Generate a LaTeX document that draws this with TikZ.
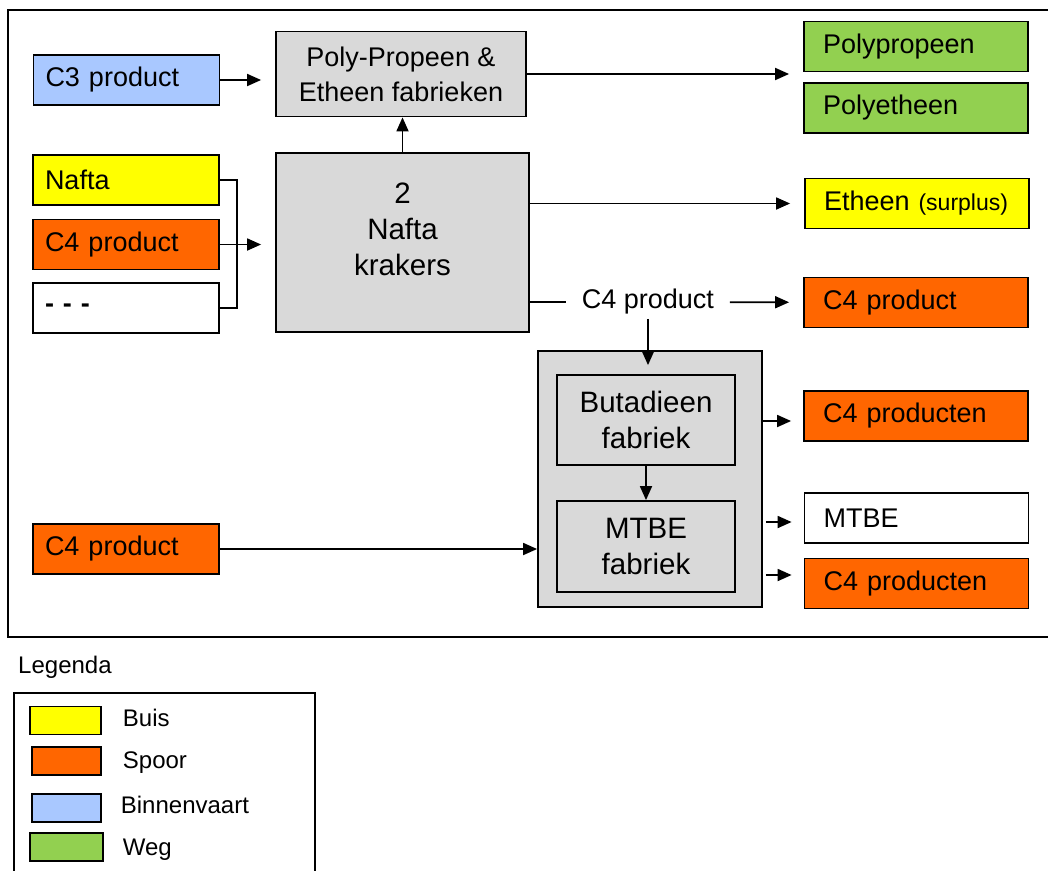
\documentclass[tikz,border=0pt]{standalone}
\usepackage{fontspec}
\setmainfont{Liberation Sans}
\usetikzlibrary{arrows.meta,positioning}
\definecolor{buis}{HTML}{FFFF00}
\definecolor{spoor}{HTML}{FF6600}
\definecolor{vaart}{HTML}{A9C8FF}
\definecolor{weg}{HTML}{92D050}
\definecolor{fabriek}{HTML}{D9D9D9}
\newcommand\bigtxt{\fontsize{27}{35}\selectfont}
\newcommand\fabtxt{\fontsize{29.5}{36}\selectfont}
\newcommand\legtxt{\fontsize{24}{28}\selectfont}

\begin{document}
\begin{tikzpicture}[x=1pt,y=-1pt,line width=1.8pt,
    >={Triangle[length=14pt,width=12pt]},
    box/.style={draw, minimum height=50pt, font=\bigtxt},
    inbox/.style={box, text width=162pt, inner xsep=12pt, align=left},
    outbox/.style={box, text width=186pt, inner xsep=19pt, align=left},
    plant/.style={draw, fill=fabriek, font=\bigtxt, align=center},
    swatch/.style={draw, minimum height=28pt},
    legtext/.style={anchor=base west, font=\legtxt, inner sep=0pt}]
    \useasboundingbox (0,0) rectangle (1048,870);

    % frame
    \draw (8,10) rectangle (1054,637);

    % inputs
    \node[inbox, fill=vaart] (c3) at (126.5,80) {C3 product};
    \node[inbox, fill=buis] (nafta) at (126,180) {Nafta};
    \node[inbox, fill=spoor] (c4in) at (126,244.5) {C4 product};
    \node[inbox, fill=white] (rest) at (126,308) {\textbf{- - -}};
    \node[inbox, fill=spoor] (c4low) at (126,549) {C4 product};

    % plants
    \node[plant, minimum width=250pt, minimum height=85pt] (poly) at (401,74) {Poly-Propeen \&\\Etheen fabrieken};
    \node[plant, minimum width=253pt, minimum height=179pt] (krakers) at (402.5,242.5) {};
    \node[font=\fabtxt, align=center] (kraktext) at (402.5,229) {2\\Nafta\\krakers};
    \node[plant, minimum width=224pt, minimum height=256pt] (group) at (650,479) {};
    \node[plant, font=\fabtxt, minimum width=178pt, minimum height=90pt] (buta) at (646,420) {Butadieen\\fabriek};
    \node[plant, font=\fabtxt, minimum width=178pt, minimum height=91pt] (mtbe) at (646,546.5) {MTBE\\fabriek};
    \node[font=\bigtxt, inner xsep=15pt] (c4mid) at (648,302) {C4 product};

    % outputs
    \node[outbox, fill=weg] (pp) at (916,46.5) {Polypropeen};
    \node[outbox, fill=weg] (pe) at (916,108) {Polyetheen};
    \node[outbox, fill=buis] (etheen) at (917,203.5) {Etheen {\fontsize{23}{28}\selectfont(surplus)}};
    \node[outbox, fill=spoor] (c4out) at (916,302.5) {C4 product};
    \node[outbox, fill=spoor] (prodA) at (916,416) {C4 producten};
    \node[outbox, fill=white] (mtbeout) at (916.5,518) {MTBE};
    \node[outbox, fill=spoor] (prodB) at (916.5,583.5) {C4 producten};

    % flows
    \draw[->, shorten >=14pt] (c3) -- (c3 -| poly.west);
    \draw (nafta.east) -- ++(17,0) |- (rest.east);
    \draw[->, shorten >=14pt] (c4in) -- (c4in -| krakers.west);
    \draw[->] (krakers.north) -- (krakers.north |- poly.south);
    \draw[->, shorten >=14pt] (poly) -- (poly -| pp.west);
    \draw[->, shorten >=14pt] (krakers.east |- etheen) -- (etheen.west);
    \draw (krakers.east |- c4mid) -- (c4mid);
    \draw[->, shorten >=14pt] (c4mid) -- (c4out);
    \draw[->, shorten >=9pt] (c4mid) -- (c4mid |- buta.north);
    \draw[->] (buta) -- (mtbe);
    \draw[->] (c4low) -- (c4low -| group.west);
    \draw[->, shorten >=12pt] (group.east |- 0,421) -- (prodA.west |- 0,421);
    \draw[->, shorten >=12pt] ([xshift=3pt]group.east |- 0,522) -- (mtbeout.west |- 0,522);
    \draw[->, shorten >=12pt] ([xshift=3pt]group.east |- 0,575) -- (prodB.west |- 0,575);

    % legend
    \node[font=\legtxt, anchor=west] (legtitle) at (14,667) {Legenda};
    \draw (14,880) |- (315,693) -- (315,880);
    \node[swatch, fill=buis, minimum width=71pt] (buisbox) at (65.5,720.5) {};
    \node[swatch, fill=spoor, minimum width=69pt] (spoorbox) at (66.5,761) {};
    \node[swatch, fill=vaart, minimum width=69pt] (vaartbox) at (66.5,808) {};
    \node[swatch, fill=weg, minimum width=73pt] (wegbox) at (66.5,847) {};
    \node[legtext] (buislbl) at (122,726) {Buis};
    \node[legtext] (spoorlbl) at (122,768) {Spoor};
    \node[legtext] (vaartlbl) at (120,813) {Binnenvaart};
    \node[legtext] (weglbl) at (122,855) {Weg};
\end{tikzpicture}
\end{document}
